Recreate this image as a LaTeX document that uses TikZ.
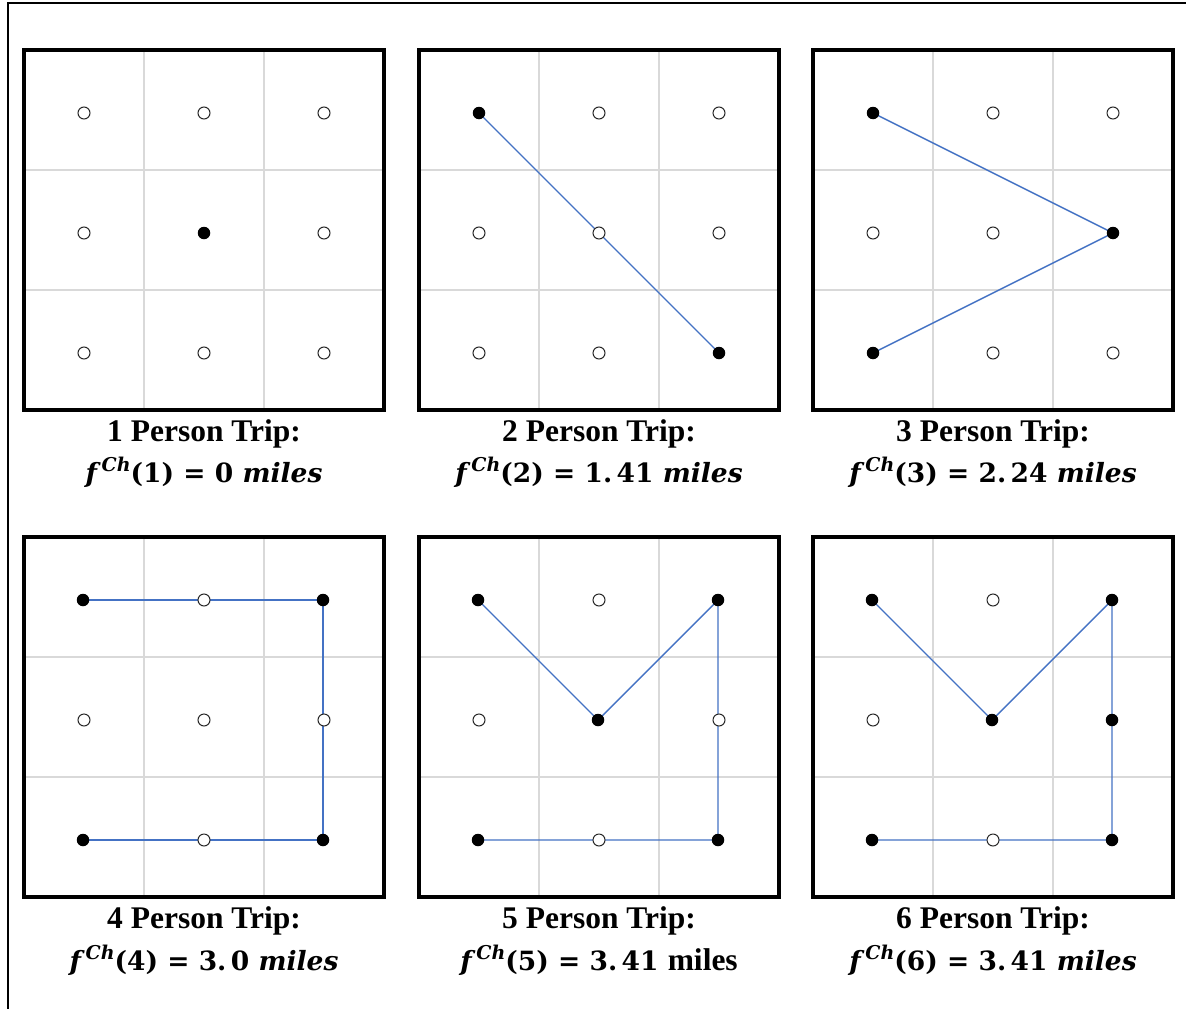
\documentclass[tikz,border=0pt]{standalone}
\usepackage{fontspec}
\setmainfont{Liberation Serif}
\newfontfamily\fmlfont{DejaVu Serif}
\pgfdeclarelayer{bglayer}
\pgfdeclarelayer{gridlayer}
\pgfdeclarelayer{linelayer}
\pgfsetlayers{bglayer,gridlayer,linelayer,main}
\definecolor{tripblue}{RGB}{68,114,196}
\definecolor{gridgray}{RGB}{217,217,217}
\definecolor{dotgray}{RGB}{40,40,40}
\tikzset{
  panelbox/.style={draw=black, line width=3.5pt, minimum width=360pt, minimum height=360pt, inner sep=0pt, outer sep=0pt},
  gridline/.style={draw=gridgray, line width=1.5pt},
  opendot/.style={circle, draw=dotgray, fill=white, line width=1pt, minimum size=12pt, inner sep=0pt},
  fulldot/.style={circle, fill=black, minimum size=12.5pt, inner sep=0pt},
  trip/.style={draw=tripblue, line width=1.4pt},
  captitle/.style={font=\fontsize{31.5}{34}\selectfont\bfseries, inner sep=0pt},
  capformula/.style={font=\fontsize{26.5}{30}\fmlfont\bfseries, inner sep=0pt},
}
\newcommand\supCh{\raisebox{11pt}{\fontsize{19}{19}\selectfont\itshape Ch}}
\newcommand\fml[2]{\textit{f}\kern1pt\supCh(#1)~=~#2~\textit{miles}}
\newcommand\fmlup[2]{\textit{f}\kern1pt\supCh(#1)~=~#2~{\fontsize{31.5}{34}\rmfamily\bfseries miles}}
\newcommand\drawpanel[3]{%
  \node[panelbox] (#1) at ({#2+180},{#3+180}) {};
  \begin{pgfonlayer}{gridlayer}
    \draw[gridline] ({#2+120},#3) -- ({#2+120},{#3+360});
    \draw[gridline] ({#2+240},#3) -- ({#2+240},{#3+360});
    \draw[gridline] (#2,{#3+120}) -- ({#2+360},{#3+120});
    \draw[gridline] (#2,{#3+240}) -- ({#2+360},{#3+240});
  \end{pgfonlayer}
}
% #1 node name, #2 style, #3 panel x, #4 panel y, #5 column, #6 row
\newcommand\pdot[6]{\node[#2] (#1) at ({#3+60+120*#5},{#4+63+120*#6}) {};}
\newcommand\tripline[1]{\begin{pgfonlayer}{linelayer}\draw[trip] #1;\end{pgfonlayer}}
\begin{document}
\begin{tikzpicture}[x=1pt,y=-1pt]
\useasboundingbox (0,0) rectangle (1186,1009);
\begin{pgfonlayer}{bglayer}
\fill[white] (0,0) rectangle (1186,1009);
\end{pgfonlayer}
% outer frame (top and left only)
\draw[line width=2pt] (1186,3) -- (8,3) -- (8,1009);

% ---------- Panel 1 ----------
\drawpanel{P1}{24}{50}
\pdot{a00}{opendot}{24}{50}{0}{0}
\pdot{a10}{opendot}{24}{50}{1}{0}
\pdot{a20}{opendot}{24}{50}{2}{0}
\pdot{a01}{opendot}{24}{50}{0}{1}
\pdot{a11}{fulldot}{24}{50}{1}{1}
\pdot{a21}{opendot}{24}{50}{2}{1}
\pdot{a02}{opendot}{24}{50}{0}{2}
\pdot{a12}{opendot}{24}{50}{1}{2}
\pdot{a22}{opendot}{24}{50}{2}{2}
\node[captitle] (t1) at (204,434) {1 Person Trip:};
\node[capformula] (f1) at (204,472) {\fml{1}{0}};

% ---------- Panel 2 ----------
\drawpanel{P2}{419}{50}
\pdot{b00}{fulldot}{419}{50}{0}{0}
\pdot{b10}{opendot}{419}{50}{1}{0}
\pdot{b20}{opendot}{419}{50}{2}{0}
\pdot{b01}{opendot}{419}{50}{0}{1}
\pdot{b11}{opendot}{419}{50}{1}{1}
\pdot{b21}{opendot}{419}{50}{2}{1}
\pdot{b02}{opendot}{419}{50}{0}{2}
\pdot{b12}{opendot}{419}{50}{1}{2}
\pdot{b22}{fulldot}{419}{50}{2}{2}
\tripline{(b00.center) -- (b22.center)}
\node[captitle] (t2) at (599,434) {2 Person Trip:};
\node[capformula] (f2) at (599,472) {\fml{2}{1.\,41}};

% ---------- Panel 3 ----------
\drawpanel{P3}{813}{50}
\pdot{c00}{fulldot}{813}{50}{0}{0}
\pdot{c10}{opendot}{813}{50}{1}{0}
\pdot{c20}{opendot}{813}{50}{2}{0}
\pdot{c01}{opendot}{813}{50}{0}{1}
\pdot{c11}{opendot}{813}{50}{1}{1}
\pdot{c21}{fulldot}{813}{50}{2}{1}
\pdot{c02}{fulldot}{813}{50}{0}{2}
\pdot{c12}{opendot}{813}{50}{1}{2}
\pdot{c22}{opendot}{813}{50}{2}{2}
\tripline{(c00.center) -- (c21.center) -- (c02.center)}
\node[captitle] (t3) at (993,434) {3 Person Trip:};
\node[capformula] (f3) at (993,472) {\fml{3}{2.\,24}};

% ---------- Panel 4 ----------
\drawpanel{P4}{24}{537}
\pdot{d00}{fulldot}{23}{537}{0}{0}
\pdot{d10}{opendot}{24}{537}{1}{0}
\pdot{d20}{fulldot}{23}{537}{2}{0}
\pdot{d01}{opendot}{24}{537}{0}{1}
\pdot{d11}{opendot}{24}{537}{1}{1}
\pdot{d21}{opendot}{24}{537}{2}{1}
\pdot{d02}{fulldot}{23}{537}{0}{2}
\pdot{d12}{opendot}{24}{537}{1}{2}
\pdot{d22}{fulldot}{23}{537}{2}{2}
\tripline{(d00.center) -- (d20.center) -- (d22.center) -- (d02.center)}
\node[captitle] (t4) at (204,921) {4 Person Trip:};
\node[capformula] (f4) at (204,960) {\fml{4}{3.\,0}};

% ---------- Panel 5 ----------
\drawpanel{P5}{419}{537}
\pdot{e00}{fulldot}{418}{537}{0}{0}
\pdot{e10}{opendot}{419}{537}{1}{0}
\pdot{e20}{fulldot}{418}{537}{2}{0}
\pdot{e01}{opendot}{419}{537}{0}{1}
\pdot{e11}{fulldot}{418}{537}{1}{1}
\pdot{e21}{opendot}{419}{537}{2}{1}
\pdot{e02}{fulldot}{418}{537}{0}{2}
\pdot{e12}{opendot}{419}{537}{1}{2}
\pdot{e22}{fulldot}{418}{537}{2}{2}
\tripline{(e00.center) -- (e11.center) -- (e20.center) -- (e22.center) -- (e02.center)}
\node[captitle] (t5) at (599,921) {5 Person Trip:};
\node[capformula] (f5) at (599,960) {\fmlup{5}{3.\,41}};

% ---------- Panel 6 ----------
\drawpanel{P6}{813}{537}
\pdot{g00}{fulldot}{812}{537}{0}{0}
\pdot{g10}{opendot}{813}{537}{1}{0}
\pdot{g20}{fulldot}{812}{537}{2}{0}
\pdot{g01}{opendot}{813}{537}{0}{1}
\pdot{g11}{fulldot}{812}{537}{1}{1}
\pdot{g21}{fulldot}{812}{537}{2}{1}
\pdot{g02}{fulldot}{812}{537}{0}{2}
\pdot{g12}{opendot}{813}{537}{1}{2}
\pdot{g22}{fulldot}{812}{537}{2}{2}
\tripline{(g00.center) -- (g11.center) -- (g20.center) -- (g22.center) -- (g02.center)}
\node[captitle] (t6) at (993,921) {6 Person Trip:};
\node[capformula] (f6) at (993,960) {\fml{6}{3.\,41}};
\end{tikzpicture}
\end{document}
